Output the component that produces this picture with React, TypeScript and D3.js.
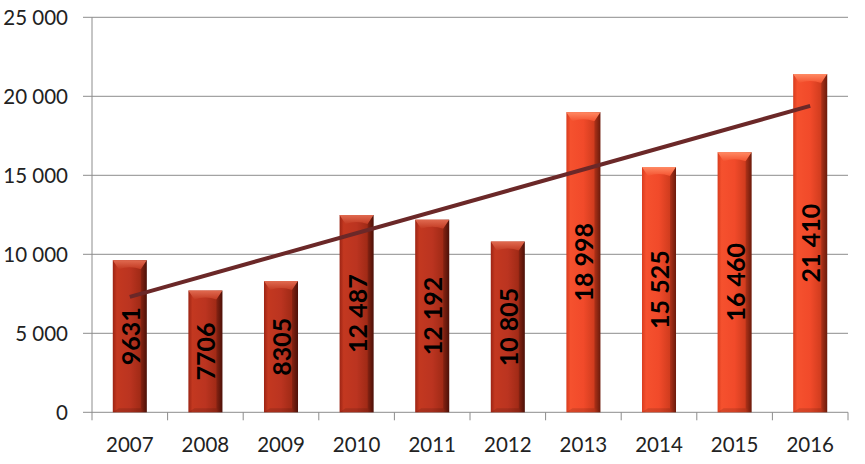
import React from "react";
import * as d3 from "d3";

const years = ["2007", "2008", "2009", "2010", "2011", "2012", "2013", "2014", "2015", "2016"];
const values = [9631, 7706, 8305, 12487, 12192, 10805, 18998, 15525, 16460, 21410];
const yTicks = [0, 5000, 10000, 15000, 20000, 25000];

const W = 865;
const H = 464;
const M = { left: 92, right: 17, top: 17.3, bottom: 51.7 };

const fmtTick = (v: number) => d3.format(",")(v).replace(/,/g, " ");
const fmtLabel = (v: number) => (v >= 10000 ? d3.format(",")(v).replace(/,/g, " ") : String(v));

export default function App() {
  const x = d3
    .scaleBand<string>()
    .domain(years)
    .range([M.left, W - M.right])
    .paddingInner(0.55)
    .paddingOuter(0.275);
  const xc = d3.scaleBand<string>().domain(years).range([M.left, W - M.right]);
  const y = d3.scaleLinear().domain([0, 25000]).range([H - M.bottom, M.top]);

  // linear trend (least squares)
  const n = values.length;
  const xs = values.map((_, i) => i + 1);
  const mx = d3.mean(xs)!;
  const my = d3.mean(values)!;
  const sxy = d3.sum(xs, (xi, i) => (xi - mx) * (values[i] - my));
  const sxx = d3.sum(xs, (xi) => (xi - mx) ** 2);
  const slope = sxy / sxx;
  const icpt = my - slope * mx;
  const trendPts: [number, number][] = [
    [xc(years[0])! + xc.bandwidth() / 2, y(icpt + slope * 1)],
    [xc(years[n - 1])! + xc.bandwidth() / 2, y(icpt + slope * n)],
  ];
  const line = d3.line();

  const y0 = y(0);
  const xEnd = W - M.right;
  const bw = x.bandwidth();
  const font = "Lato, 'Open Sans', sans-serif";

  return (
    <svg
      width={W}
      height={H}
      style={{ position: "absolute", left: 0, top: 0, display: "block", background: "#fff" }}
    >
      <defs>
        <linearGradient id="gDark" x1="0" x2="1" y1="0" y2="0">
          <stop offset="0%" stopColor="#9c2414" />
          <stop offset="12%" stopColor="#c33820" />
          <stop offset="50%" stopColor="#bb3420" />
          <stop offset="82%" stopColor="#a02a16" />
          <stop offset="100%" stopColor="#5a140a" />
        </linearGradient>
        <linearGradient id="gLight" x1="0" x2="1" y1="0" y2="0">
          <stop offset="0%" stopColor="#d83c1e" />
          <stop offset="12%" stopColor="#f5512e" />
          <stop offset="50%" stopColor="#f14a2a" />
          <stop offset="82%" stopColor="#d03c1e" />
          <stop offset="100%" stopColor="#7e200e" />
        </linearGradient>
        <linearGradient id="tDark" x1="0" x2="0" y1="0" y2="1">
          <stop offset="0%" stopColor="#e06a50" />
          <stop offset="100%" stopColor="#c23a22" />
        </linearGradient>
        <linearGradient id="tLight" x1="0" x2="0" y1="0" y2="1">
          <stop offset="0%" stopColor="#ff8a64" />
          <stop offset="100%" stopColor="#f4522f" />
        </linearGradient>
      </defs>

      {/* gridlines */}
      {yTicks.map((t) => (
        <g key={t}>
          <line x1={M.left - 9} x2={xEnd} y1={y(t)} y2={y(t)} stroke="#8c8c8c" strokeWidth={1} />
          <text
            x={68}
            y={y(t)}
            textAnchor="end"
            dominantBaseline="central"
            fontFamily={font}
            fontSize={20.5}
            fill="#222"
          >
            {fmtTick(t)}
          </text>
        </g>
      ))}

      {/* y axis line */}
      <line x1={M.left} x2={M.left} y1={M.top} y2={y0} stroke="#8c8c8c" strokeWidth={1} />

      {/* x ticks */}
      {years.map((yr) => (
        <line
          key={"t" + yr}
          x1={xc(yr)!}
          x2={xc(yr)!}
          y1={y0}
          y2={y0 + 8}
          stroke="#8c8c8c"
        />
      ))}
      <line x1={xEnd} x2={xEnd} y1={y0} y2={y0 + 8} stroke="#8c8c8c" />

      {/* bars */}
      {values.map((v, i) => {
        const dark = i < 6;
        const bx = x(years[i])!;
        const by = y(v);
        const bh = y0 - by;
        const bev = 9;
        return (
          <g key={years[i]}>
            <rect x={bx} y={by} width={bw} height={bh} fill={dark ? "url(#gDark)" : "url(#gLight)"} />
            <path
              d={`M${bx},${by} L${bx + bw},${by} L${bx + bw - 6},${by + bev} Q${bx + bw / 2},${by + bev - 4} ${bx + 6},${by + bev} Z`}
              fill={dark ? "url(#tDark)" : "url(#tLight)"}
            />
            <path
              d={`M${bx + bw},${by} L${bx + bw - 6},${by + bev} L${bx + bw - 6},${y0 - 4} L${bx + bw},${y0} Z`}
              fill="#000"
              opacity={0.15}
            />
            <path
              d={`M${bx},${y0} L${bx + 6},${y0 - 4} L${bx + bw - 6},${y0 - 4} L${bx + bw},${y0} Z`}
              fill="#000"
              opacity={0.12}
            />
          </g>
        );
      })}

      {/* trendline */}
      <path d={line(trendPts)!} stroke="#6b2828" strokeWidth={4} fill="none" />

      {/* bar labels */}
      {values.map((v, i) => {
        const cx = x(years[i])! + bw / 2;
        const cy = (y(v) + y0) / 2;
        return (
          <text
            key={"l" + i}
            transform={`translate(${cx},${cy}) rotate(-90)`}
            textAnchor="middle"
            dominantBaseline="central"
            fontFamily={font}
            fontWeight="bold"
            fontSize={25}
            fill="#000"
          >
            {fmtLabel(v)}
          </text>
        );
      })}

      {/* x labels */}
      {years.map((yr) => (
        <text
          key={"x" + yr}
          x={xc(yr)! + xc.bandwidth() / 2}
          y={452}
          textAnchor="middle"
          fontFamily={font}
          fontSize={20.5}
          fill="#222"
        >
          {yr}
        </text>
      ))}
    </svg>
  );
}
